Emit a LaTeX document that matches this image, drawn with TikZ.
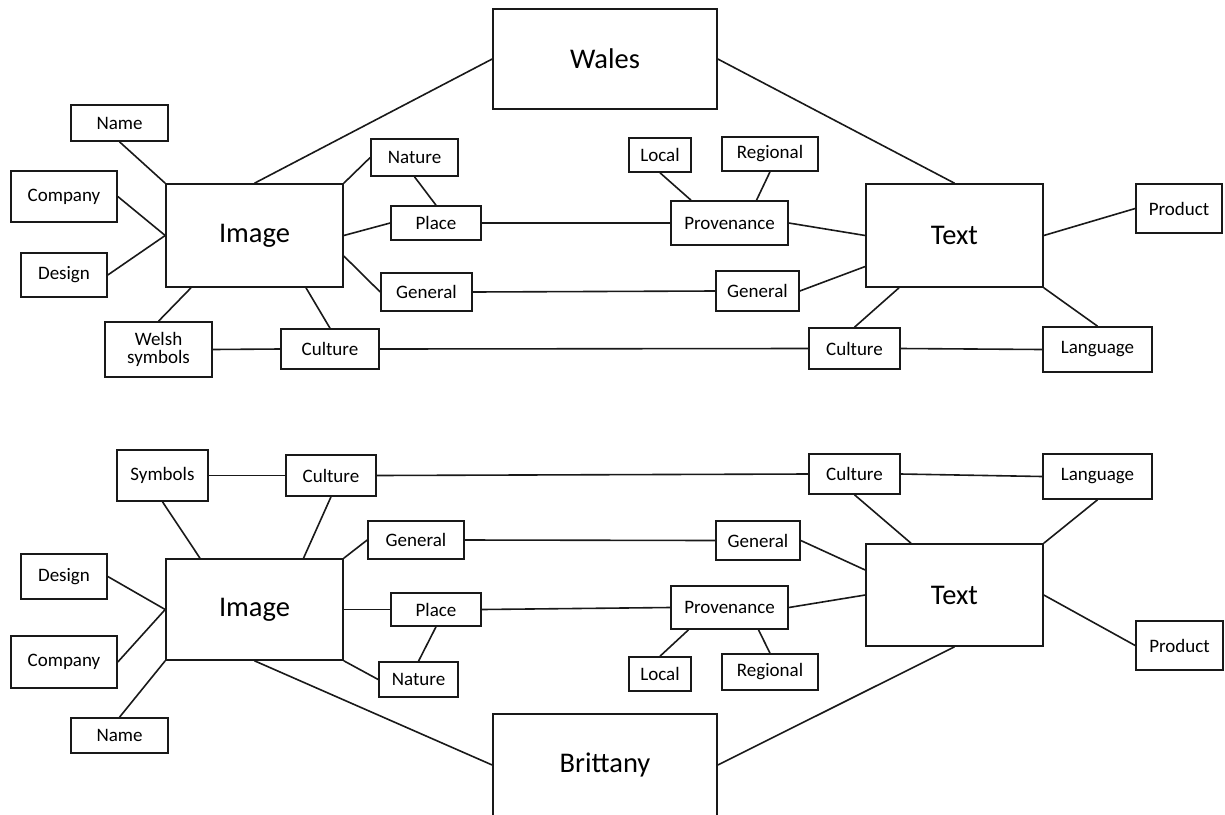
\documentclass[tikz,border=0pt]{standalone}
\usepackage{fontspec}
\setmainfont{Carlito}
\begin{document}
\begin{tikzpicture}[x=1pt,y=-1pt,
  box/.style={draw=black!90,line width=1.6pt,fill=white,inner sep=0pt,align=center,
    font=\fontsize{19}{20}\selectfont},
  bigbox/.style={box,font=\fontsize{28.5}{30}\selectfont},
  conn/.style={draw=black!90,line width=1.6pt}]
\useasboundingbox (0,0) rectangle (1225,814);
% ---------- Wales half ----------
\node[bigbox,minimum width=224pt,minimum height=100pt] (wales) at (605,59) {Wales};
\node[bigbox,minimum width=177pt,minimum height=103pt] (imgW) at (254.5,235.5) {\raisebox{-2pt}{Image}};
\node[bigbox,minimum width=177pt,minimum height=103pt] (textW) at (954.5,235.5) {Text};
\node[box,minimum width=97pt,minimum height=36pt] (nameW) at (119.5,123) {Name};
\node[box,minimum width=106pt,minimum height=51pt] (companyW) at (64,196.5) {Company};
\node[box,minimum width=86pt,minimum height=44pt] (designW) at (64,275) {Design};
\node[box,minimum width=87pt,minimum height=37pt] (natureW) at (414.5,157.5) {Nature};
\node[box,minimum width=90pt,minimum height=34pt] (placeW) at (436,223) {Place};
\node[box,minimum width=91pt,minimum height=38pt] (genLW) at (426.5,292) {General};
\node[box,minimum width=107pt,minimum height=55pt] (welshW) at (158.5,349.5) {Welsh\\[-2pt]symbols};
\node[box,minimum width=98pt,minimum height=40pt] (cultLW) at (330,349) {Culture};
\node[box,minimum width=62pt,minimum height=34pt] (localW) at (660,155) {Local};
\node[box,minimum width=96pt,minimum height=34pt] (regionalW) at (770,154) {Regional};
\node[box,minimum width=117pt,minimum height=44pt] (provW) at (729.5,223) {Provenance};
\node[box,minimum width=83pt,minimum height=40pt] (genRW) at (757.5,291) {General};
\node[box,minimum width=91pt,minimum height=41pt] (cultRW) at (854.5,348.5) {Culture};
\node[box,minimum width=109pt,minimum height=45pt] (langW) at (1097.5,349.5) {Language};
\node[box,minimum width=86pt,minimum height=49pt] (productW) at (1179,208.5) {Product};

\path[conn] (nameW.south) -- (imgW.north west);
\path[conn] (companyW.east) -- (imgW.west);
\path[conn] (designW.east) -- (imgW.west);
\path[conn] (imgW.north) -- (wales.west);
\path[conn] (wales.east) -- (textW.north);
\path[conn] (imgW.north east) -- (natureW.west);
\path[conn] (natureW.south) -- (placeW.north);
\path[conn] (imgW.east) -- (placeW.west);
\path[conn] ([yshift=-20.5pt]imgW.east) -- (genLW.west);
\path[conn] ([xshift=-63.5pt]imgW.south) -- (welshW.north);
\path[conn] ([xshift=51.5pt]imgW.south) -- (cultLW.north);
\path[conn] (welshW.east) -- (cultLW.west);
\path[conn] (cultLW.east) -- (cultRW.west);
\path[conn] (genLW.east) -- (genRW.west);
\path[conn] (placeW.east) -- (provW.west);
\path[conn] (localW.south) -- ([xshift=-38.5pt]provW.north);
\path[conn] (regionalW.south) -- ([xshift=27pt]provW.north);
\path[conn] (provW.east) -- (textW.west);
\path[conn] (genRW.east) -- ([yshift=-31pt]textW.west);
\path[conn] (textW.east) -- (productW.west);
\path[conn] ([xshift=-55.5pt]textW.south) -- (cultRW.north);
\path[conn] (textW.south east) -- (langW.north);
\path[conn] (cultRW.east) -- (langW.west);

% ---------- Brittany half ----------
\node[bigbox,minimum width=224pt,minimum height=102pt] (brittany) at (605,765) {Brittany};
\node[bigbox,minimum width=177pt,minimum height=101pt] (imgB) at (254.5,609.5) {\raisebox{-2pt}{Image}};
\node[bigbox,minimum width=177pt,minimum height=102pt] (textB) at (954.5,595) {Text};
\node[box,minimum width=91pt,minimum height=51pt] (symB) at (162.5,475.5) {Symbols};
\node[box,minimum width=90pt,minimum height=41pt] (cultLB) at (331,475.5) {Culture};
\node[box,minimum width=96pt,minimum height=38pt] (genLB) at (416,540) {General};
\node[box,minimum width=86pt,minimum height=45pt] (designB) at (64,576.5) {Design};
\node[box,minimum width=106pt,minimum height=52pt] (companyB) at (64,662) {Company};
\node[box,minimum width=97pt,minimum height=35pt] (nameB) at (119.5,735.5) {Name};
\node[box,minimum width=90pt,minimum height=33pt] (placeB) at (436,609.5) {Place};
\node[box,minimum width=79pt,minimum height=35pt] (natureB) at (418.5,679.5) {Nature};
\node[box,minimum width=91pt,minimum height=40pt] (cultRB) at (854.5,474) {Culture};
\node[box,minimum width=109pt,minimum height=45pt] (langB) at (1097.5,476.5) {Language};
\node[box,minimum width=84pt,minimum height=39pt] (genRB) at (758,540.5) {General};
\node[box,minimum width=117pt,minimum height=43pt] (provB) at (729.5,607.5) {Provenance};
\node[box,minimum width=87pt,minimum height=49pt] (productB) at (1179.5,645.5) {Product};
\node[box,minimum width=62pt,minimum height=34pt] (localB) at (660,674) {Local};
\node[box,minimum width=96pt,minimum height=36pt] (regionalB) at (770,672) {Regional};

\path[conn] (symB.east) -- (cultLB.west);
\path[conn] (cultLB.east) -- (cultRB.west);
\path[conn] (cultRB.east) -- (langB.west);
\path[conn] (symB.south) -- ([xshift=-54.5pt]imgB.north);
\path[conn] (cultLB.south) -- ([xshift=49pt]imgB.north);
\path[conn] (imgB.north east) -- (genLB.west);
\path[conn] (genLB.east) -- (genRB.west);
\path[conn] (designB.east) -- (imgB.west);
\path[conn] (companyB.east) -- (imgB.west);
\path[conn] (nameB.north) -- (imgB.south west);
\path[conn] (imgB.east) -- (placeB.west);
\path[conn] (placeB.south) -- (natureB.north);
\path[conn] (imgB.south east) -- (natureB.west);
\path[conn] (imgB.south) -- (brittany.west);
\path[conn] (brittany.east) -- (textB.south);
\path[conn] (placeB.east) -- (provB.west);
\path[conn] (provB.east) -- (textB.west);
\path[conn] (genRB.east) -- ([yshift=25pt]textB.west);
\path[conn] (cultRB.south) -- ([xshift=-43.5pt]textB.north);
\path[conn] (langB.south) -- (textB.north east);
\path[conn] (textB.east) -- (productB.west);
\path[conn] ([xshift=-41pt]provB.south) -- (localB.north);
\path[conn] ([xshift=29pt]provB.south) -- (regionalB.north);
\end{tikzpicture}
\end{document}
